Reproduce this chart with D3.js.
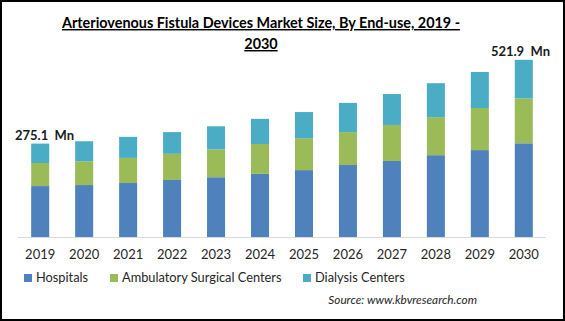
<!DOCTYPE html>
<html>
<head>
<meta charset="utf-8">
<script src="https://cdn.jsdelivr.net/npm/d3@7"></script>
<style>
  body { margin: 0; background: #fff; }
  svg { display: block; }
</style>
</head>
<body>
<script>
const years = ['2019', '2020', '2021', '2022', '2023', '2024', '2025', '2026', '2027', '2028', '2029', '2030']
const hospitals = [150, 153, 159, 168, 176, 186, 197, 212, 224, 241, 256, 276]
const ambulatory = [68, 70, 74, 77, 82, 88, 94, 97, 106, 112, 124, 132]
const dialysis = [57.1, 59, 62, 64, 68, 74, 77, 86, 91, 100, 106, 113.9]
const seriesNames = ['Hospitals', 'Ambulatory Surgical Centers', 'Dialysis Centers']
const endLabels = ['275.1  Mn', '521.9  Mn']

const COLORS = ['#4F81BD', '#9BBB59', '#4BACC6']
const FONT = 'Lato, "Open Sans", sans-serif'

const width = 565
const height = 321

const svg = d3.select('body').append('svg')
  .attr('width', width)
  .attr('height', height)

// frame
svg.append('rect')
  .attr('x', 1).attr('y', 1)
  .attr('width', width - 2).attr('height', height - 2)
  .attr('fill', '#fff')
  .attr('stroke', '#000')
  .attr('stroke-width', 2)

// title
const title = svg.append('text')
  .attr('text-anchor', 'middle')
  .style('font-family', FONT)
  .style('font-size', '14.4px')
  .style('font-weight', '700')
  .style('text-decoration', 'underline')
  .attr('fill', '#000')
title.append('tspan').attr('x', 261).attr('y', 28).text('Arteriovenous Fistula Devices Market Size, By End-use, 2019 -')
title.append('tspan').attr('x', 261).attr('y', 49).text('2030')

const table = years.map((y, i) => ({
  year: y,
  Hospitals: hospitals[i],
  'Ambulatory Surgical Centers': ambulatory[i],
  'Dialysis Centers': dialysis[i],
}))

const stack = d3.stack().keys(seriesNames)
const layers = stack(table)

const x = d3.scaleBand()
  .domain(years)
  .range([18, 546])
  .paddingInner(0.59)
  .paddingOuter(0.3)

const y = d3.scaleLinear()
  .domain([0, 600])
  .range([237, 237 - 600 * 0.3395])

const chartG = svg.append('g')

chartG.selectAll('.layer')
  .data(layers)
  .enter()
    .append('g')
    .attr('class', 'layer')
    .attr('fill', (d, i) => COLORS[i])
  .selectAll('rect')
  .data(d => d)
  .enter()
    .append('rect')
    .attr('x', d => x(d.data.year))
    .attr('width', x.bandwidth())
    .attr('y', d => y(d[1]))
    .attr('height', d => y(d[0]) - y(d[1]))

// baseline
svg.append('line')
  .attr('x1', 18).attr('x2', 546)
  .attr('y1', y(0) + 0.5).attr('y2', y(0) + 0.5)
  .attr('stroke', '#d9d9d9')
  .attr('stroke-width', 1)

// x axis labels
const xAxis = d3.axisBottom(x).tickSize(0).tickPadding(13)
const axisG = svg.append('g')
  .attr('transform', `translate(0,${y(0)})`)
  .call(xAxis)
axisG.select('.domain').remove()
axisG.selectAll('text')
  .style('font-family', FONT)
  .style('font-size', '13px')
  .attr('fill', '#262626')

// totals on first and last bar
const totals = table.map(d => d.Hospitals + d['Ambulatory Surgical Centers'] + d['Dialysis Centers'])
const ends = [0, years.length - 1]
svg.selectAll('.end-label')
  .data(ends)
  .enter()
    .append('text')
    .attr('class', 'end-label')
    .attr('x', (d, i) => i === 0 ? 15 : 550)
    .attr('y', d => y(totals[d]) - 4)
    .attr('text-anchor', (d, i) => i === 0 ? 'start' : 'end')
    .style('font-family', FONT)
    .style('font-size', '13px')
    .style('font-weight', '700')
    .style('white-space', 'pre')
    .attr('fill', '#1a1a1a')
    .text((d, i) => endLabels[i])

// legend
const legendX = [24, 110, 303]
const legend = svg.selectAll('.legend')
  .data(seriesNames)
  .enter()
    .append('g')
    .attr('class', 'legend')
    .attr('transform', (d, i) => `translate(${legendX[i]},274)`)
legend.append('rect')
  .attr('width', 8).attr('height', 8)
  .attr('fill', (d, i) => COLORS[i])
legend.append('text')
  .attr('x', 12)
  .attr('y', 8)
  .style('font-family', FONT)
  .style('font-size', '12.8px')
  .attr('fill', '#262626')
  .text(d => d)

// source
svg.append('text')
  .attr('x', 477)
  .attr('y', 304)
  .attr('text-anchor', 'end')
  .style('font-family', FONT)
  .style('font-size', '11.8px')
  .style('font-style', 'italic')
  .attr('fill', '#262626')
  .text('Source:  www.kbvresearch.com')
</script>
</body>
</html>
